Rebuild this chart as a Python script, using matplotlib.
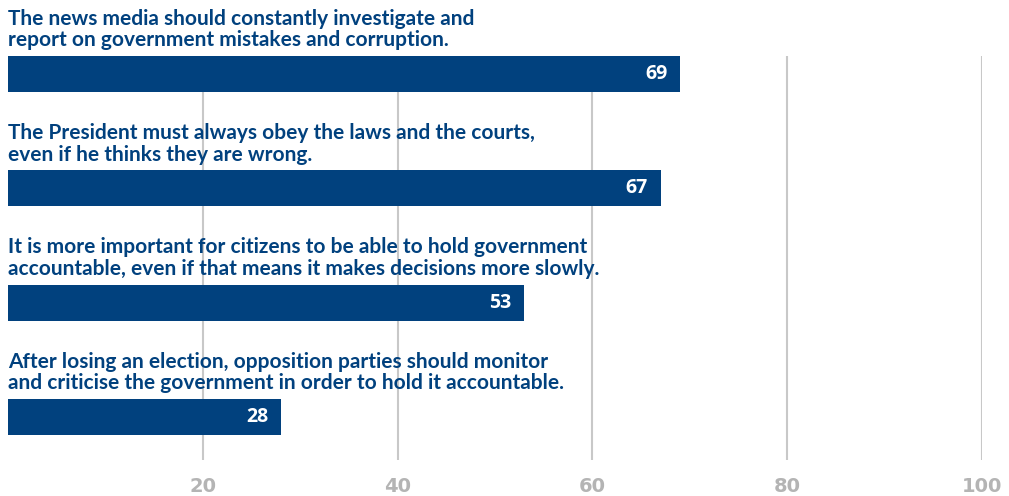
import matplotlib.pyplot as plt
from matplotlib.ticker import FixedLocator

# survey statements and share agreeing (%)
statements = [
    'The news media should constantly investigate and\nreport on government mistakes and corruption.',
    'The President must always obey the laws and the courts,\neven if he thinks they are wrong.',
    'It is more important for citizens to be able to hold government\naccountable, even if that means it makes decisions more slowly.',
    'After losing an election, opposition parties should monitor\nand criticise the government in order to hold it accountable.',
]
values = [69, 67, 53, 28]
ticks = [20, 40, 60, 80, 100]

navy = '#01417e'
grey = '#b4b4b4'
bar_h = 0.315

fig = plt.figure(figsize=(10.09, 4.96), dpi=100)
ax = fig.add_axes([8 / 1009, 1 - 460 / 496, 974 / 1009, 404 / 496])

pos = list(range(len(values)))
ax.barh(pos, values, height=bar_h, color=navy, zorder=2)

for i, (s, v) in enumerate(zip(statements, values)):
    # value inside the bar end
    ax.annotate(str(v), xy=(v, i), xytext=(-9, 0), textcoords='offset points',
                ha='right', va='center', color='white', fontsize=14,
                fontweight='bold', family='Open Sans', zorder=3)
    # statement above the bar
    ax.annotate(s, xy=(0, i - bar_h / 2), xytext=(0, 4), textcoords='offset points',
                ha='left', va='bottom', color=navy, fontsize=15,
                fontweight='bold', family='Lato', linespacing=1.1,
                annotation_clip=False, zorder=3)

ax.set_xlim(0, 100)
ax.set_ylim(3.377, -bar_h / 2)

ax.xaxis.set_major_locator(FixedLocator(ticks))
ax.set_xticklabels([str(t) for t in ticks], color=grey, fontsize=14,
                   fontweight='bold', family='Liberation Sans Narrow')
ax.tick_params(axis='x', length=0, pad=12)
ax.set_yticks([])
ax.grid(axis='x', color='#c8c8c8', linewidth=1.5, zorder=0)
ax.set_axisbelow(True)
for sp in ax.spines.values():
    sp.set_visible(False)

fig.savefig('out.png', dpi=100)
